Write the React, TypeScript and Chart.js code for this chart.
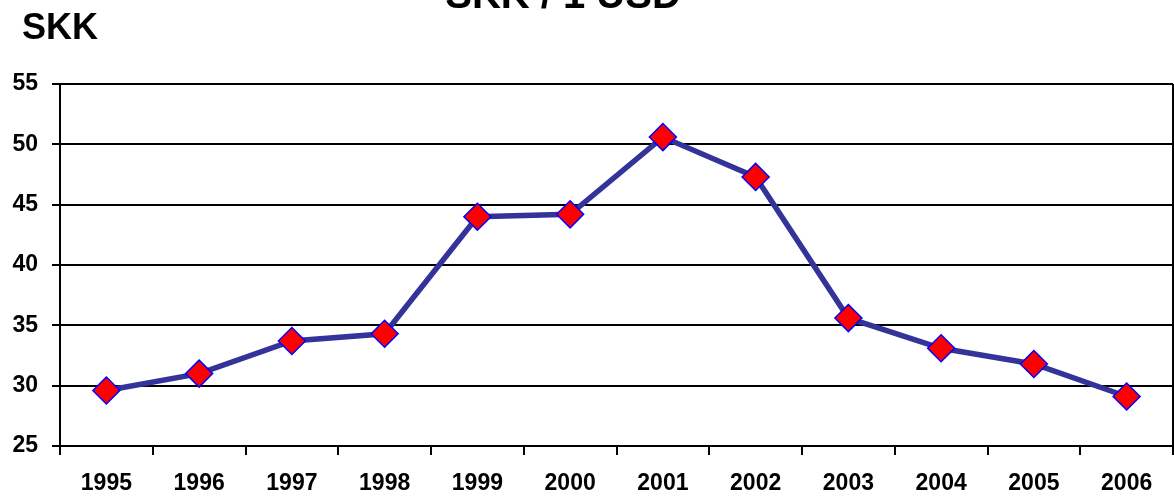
import React, { useEffect, useRef } from "react";
import { Chart, registerables } from "chart.js";

Chart.register(...registerables);

const years = ["1995", "1996", "1997", "1998", "1999", "2000", "2001", "2002", "2003", "2004", "2005", "2006"];
const skkPerUsd = [29.6, 31.0, 33.7, 34.3, 44.0, 44.2, 50.6, 47.3, 35.6, 33.1, 31.8, 29.1];
const titleText = "SKK / 1 USD";
const unitText = "SKK";
const yMin = 25;
const yMax = 55;
const yStep = 5;

const FONT = "'Liberation Sans', Arial, sans-serif";

export default function App() {
  const ref = useRef<HTMLCanvasElement | null>(null);

  useEffect(() => {
    if (!ref.current) return;
    const textPlugin = {
      id: "texts",
      afterDraw(chart: any) {
        const ctx = chart.ctx;
        const ca = chart.chartArea;
        ctx.save();
        ctx.strokeStyle = "#000";
        ctx.lineWidth = 2;
        ctx.beginPath();
        ctx.moveTo(ca.right, ca.top);
        ctx.lineTo(ca.right, ca.bottom);
        ctx.stroke();
        ctx.fillStyle = "#000";
        ctx.font = `bold 40px ${FONT}`;
        ctx.textAlign = "center";
        ctx.textBaseline = "alphabetic";
        ctx.fillText(titleText, 563, 8);
        ctx.font = `bold 36px ${FONT}`;
        ctx.textAlign = "left";
        ctx.fillText(unitText, 22, 39);
        ctx.restore();
      },
    };
    const chart = new Chart(ref.current, {
      type: "line",
      data: {
        labels: years,
        datasets: [
          {
            data: skkPerUsd,
            borderColor: "#333399",
            borderWidth: 5.5,
            pointStyle: "rectRot",
            pointRadius: 13.5,
            pointHoverRadius: 13.5,
            pointBackgroundColor: "#FF0000",
            pointBorderColor: "#0000FF",
            pointBorderWidth: 1.5,
            tension: 0,
          },
        ],
      },
      options: {
        animation: false,
        responsive: false,
        maintainAspectRatio: false,
        layout: { autoPadding: false, padding: { top: 84, right: 1, left: 0, bottom: 0 } },
        plugins: { legend: { display: false }, tooltip: { enabled: false }, title: { display: false } },
        scales: {
          x: {
            offset: true,
            afterFit: (s: any) => {
              s.height = 51;
              s.paddingLeft = 0;
              s.paddingRight = 0;
            },
            grid: {
              offset: true,
              drawOnChartArea: false,
              drawTicks: true,
              tickLength: 9,
              color: "#000",
              lineWidth: 2,
            },
            border: { display: true, color: "#000", width: 2 },
            ticks: {
              color: "#000",
              padding: 15,
              maxRotation: 0,
              font: { family: FONT, size: 23, weight: "bold" },
            },
          },
          y: {
            min: yMin,
            max: yMax,
            afterFit: (s: any) => {
              s.width = 60;
            },
            grid: {
              color: "#000",
              lineWidth: 2,
              drawTicks: true,
              tickLength: 8,
            },
            border: { display: true, color: "#000", width: 2 },
            ticks: {
              stepSize: yStep,
              color: "#000",
              padding: 14,
              font: { family: FONT, size: 23, weight: "bold" },
            },
          },
        },
      },
      plugins: [textPlugin],
    });
    return () => chart.destroy();
  }, []);

  return (
    <div style={{ position: "fixed", left: 0, top: 0, width: 1174, height: 497, background: "#fff" }}>
      <canvas ref={ref} width={1174} height={497} style={{ width: 1174, height: 497, display: "block" }} />
    </div>
  );
}
